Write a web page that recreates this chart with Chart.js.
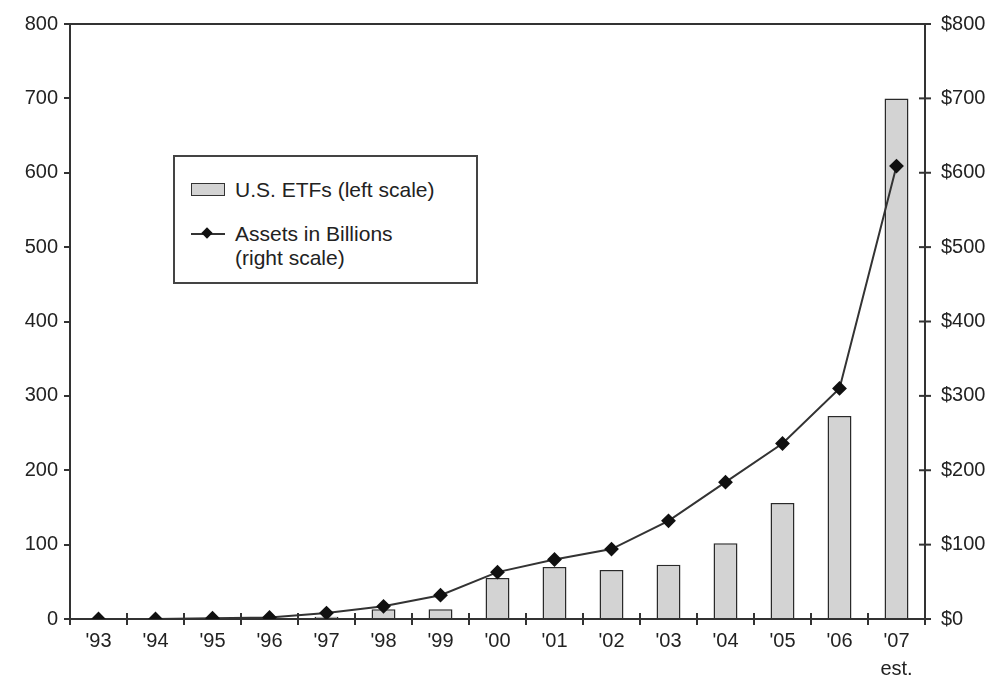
<!DOCTYPE html>
<html>
<head>
<meta charset="utf-8">
<script src="https://cdn.jsdelivr.net/npm/chart.js@4"></script>
<style>
  body { margin: 0; background: #fff; }
  #wrap { position: relative; width: 998px; height: 677px; }
  #legenda {
    position: absolute; left: 173px; top: 155px; width: 301px; height: 125px;
    border: 2px solid #444; background: #fff;
    font-family: "Liberation Sans", Arial, sans-serif; font-size: 21px; color: #222;
  }
  .item { position: absolute; left: 16px; display: flex; align-items: flex-start; }
  .swatch { width: 32px; height: 11px; background: #d3d3d3; border: 1.5px solid #333; margin-right: 10px; margin-top: 5px; }
  .linha { position: relative; width: 34px; height: 2px; background: #333; margin-right: 10px; margin-top: 11px; }
  .linha::after { content: ""; position: absolute; left: 12px; top: -4px; width: 8px; height: 8px; background: #111; transform: rotate(45deg); }
</style>
</head>
<body>
<div id="wrap">
  <canvas id="grafico-etf" width="998" height="677"></canvas>
  <div id="legenda">
    <div class="item" style="top: 21px;"><div class="swatch"></div><div>U.S. ETFs (left scale)</div></div>
    <div class="item" style="top: 65px;"><div class="linha"></div><div>Assets in Billions<br>(right scale)</div></div>
  </div>
</div>
<script>
// Anos (eixo x)
const anos = ["'93", "'94", "'95", "'96", "'97", "'98", "'99", "'00", "'01", "'02", "'03", "'04", "'05", "'06", ["'07", "est."]];

// Quantidade de ETFs (escala esquerda)
const qtdETFs = [0, 0, 0, 0, 3, 13, 13, 55, 70, 66, 73, 102, 156, 273, 700];

// Patrimônio em bilhões (escala direita)
const ativosBilhoes = [0, 0, 1, 2, 8, 17, 32, 63, 80, 94, 132, 184, 236, 310, 609];

const corEixo = '#333';
const fonteTicks = { family: "'Liberation Sans', Arial, sans-serif", size: 20 };
const fonteAnos = { family: "'Liberation Sans', Arial, sans-serif", size: 20, lineHeight: 1.4 };

// ticks que cruzam o eixo (x e direita)
const ticksCruzados = {
    id: 'ticksCruzados',
    afterDraw(chart) {
        const ctx = chart.ctx;
        const x = chart.scales.x;
        const yR = chart.scales.yR;
        const area = chart.chartArea;
        const passo = x.getPixelForTick(1) - x.getPixelForTick(0);
        ctx.save();
        ctx.strokeStyle = corEixo;
        ctx.lineWidth = 2;
        // topo
        ctx.beginPath();
        ctx.moveTo(area.left - 6, area.top);
        ctx.lineTo(area.right + 6, area.top);
        ctx.stroke();
        // eixo x
        for (let i = 0; i <= anos.length; i++) {
            const px = x.getPixelForTick(0) - passo / 2 + i * passo;
            ctx.beginPath();
            ctx.moveTo(px, area.bottom - 6);
            ctx.lineTo(px, area.bottom + 6);
            ctx.stroke();
        }
        // eixo direito
        yR.ticks.forEach((t, i) => {
            const py = yR.getPixelForTick(i);
            ctx.beginPath();
            ctx.moveTo(area.right - 6, py);
            ctx.lineTo(area.right + 6, py);
            ctx.stroke();
        });
        ctx.restore();
    }
};

let myChartETF = new Chart(
    document.getElementById("grafico-etf"),
    {
        type: "bar",
        data: {
            labels: anos,
            datasets: [
                {
                    type: "line",
                    label: "Assets in Billions (right scale)",
                    data: ativosBilhoes,
                    yAxisID: "yR",
                    borderColor: "#333",
                    borderWidth: 2,
                    pointStyle: "rectRot",
                    pointRadius: 6,
                    pointBackgroundColor: "#111",
                    pointBorderColor: "#111",
                    tension: 0,
                    order: 0
                },
                {
                    label: "U.S. ETFs (left scale)",
                    data: qtdETFs,
                    yAxisID: "y",
                    backgroundColor: "#d3d3d3",
                    borderColor: "#2a2a2a",
                    borderWidth: 1.5,
                    barPercentage: 0.42,
                    categoryPercentage: 1,
                    order: 1
                }
            ]
        },
        options: {
            responsive: false,
            animation: false,
            layout: { padding: { top: 24, left: 0, right: 0, bottom: 0 } },
            plugins: {
                legend: { display: false },
                tooltip: { enabled: false }
            },
            scales: {
                x: {
                    grid: { display: false, drawTicks: false },
                    border: { color: corEixo, width: 2 },
                    ticks: { color: "#222", font: fonteAnos, padding: 8, maxRotation: 0, autoSkip: false },
                    afterFit(scale) { scale.height = 58; }
                },
                y: {
                    position: "left",
                    min: 0, max: 800,
                    grid: { drawOnChartArea: false, color: corEixo, lineWidth: 2, tickLength: 6 },
                    border: { color: corEixo, width: 2 },
                    ticks: { stepSize: 100, color: "#222", font: fonteTicks, padding: 6 },
                    afterFit(scale) { scale.width = 70; scale.paddingTop = 0; scale.paddingBottom = 0; }
                },
                yR: {
                    position: "right",
                    min: 0, max: 800,
                    grid: { display: false, drawTicks: false },
                    border: { color: corEixo, width: 2 },
                    ticks: { stepSize: 100, color: "#222", font: fonteTicks, padding: 16, callback: v => "$" + v },
                    afterFit(scale) { scale.width = 73; scale.paddingTop = 0; scale.paddingBottom = 0; }
                }
            }
        },
        plugins: [ticksCruzados]
    }
);
</script>
</body>
</html>
